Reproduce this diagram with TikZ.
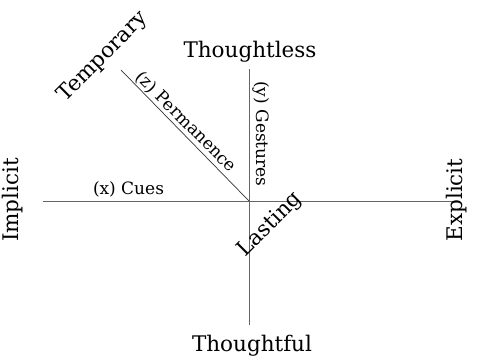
\documentclass[tikz,border=0pt]{standalone}
\usepackage{fontspec}
\setmainfont{DejaVu Serif}
\usepackage{tikz}

\tikzset{
    axisline/.style={draw=black!60, line width=0.8pt},
    biglabel/.style={inner sep=0pt, font=\fontsize{21.5}{25}\selectfont},
    smalllabel/.style={inner sep=0pt, font=\fontsize{17}{20}\selectfont}
}

\begin{document}
\begin{tikzpicture}[x=1pt, y=1pt]
    \useasboundingbox (0,0) rectangle (483,361);
    \coordinate (O) at (249, 160);
    \coordinate (W) at (43, 160);
    \coordinate (E) at (456, 160);
    \coordinate (N) at (249, 292);
    \coordinate (S) at (249, 36);
    \coordinate (NW) at (121, 291);

    % 1. Axes
    \draw[axisline] (W) -- (E);
    \draw[axisline] (S) -- (N);
    \draw[black!80, line width=0.7pt] (NW) -- (O);

    % 2. Ends of the axes
    \node[biglabel, anchor=base] (thoughtless) at (250, 303) {Thoughtless};
    \node[biglabel, anchor=base] (thoughtful) at (252, 9) {Thoughtful};
    \node[biglabel, anchor=base, rotate=90] (implicit) at (18, 161) {Implicit};
    \node[biglabel, anchor=base, rotate=90] (explicit) at (462, 161) {Explicit};
    \node[biglabel, rotate=45] (temporary) at (103, 304) {Temporary};
    \node[biglabel, rotate=45] (lasting) at (270, 136) {Lasting};

    % 3. Names of the axes
    \node[smalllabel, anchor=base] (cues) at (128.5, 166) {(x) Cues};
    \node[smalllabel, rotate=-90] (gestures) at (261, 227) {(y) Gestures};
    \node[smalllabel, rotate=-45] (permanence) at (186, 239) {(z) Permanence};
\end{tikzpicture}
\end{document}
